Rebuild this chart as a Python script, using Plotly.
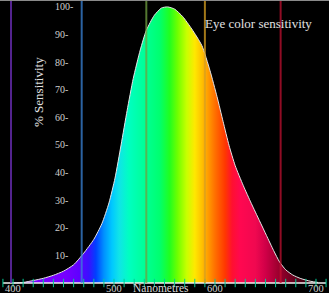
import plotly.graph_objects as go

# Sensitivity curve (nm, % sensitivity)
wavelength = [400, 410, 420, 430, 440, 450, 460, 470, 480, 488, 495, 501, 507, 513, 519,
              526, 532, 540, 547, 553, 560, 568, 577, 587, 595, 602, 608, 614, 620, 628,
              636, 644, 651, 658, 664, 670, 677, 685, 695, 702]
sensitivity = [0, 0.2, 0.9, 1.7, 2.8, 4.3, 6.6, 10.8, 15.8, 21.5, 29, 38, 50, 62.5, 74,
               84.4, 91.5, 97, 99.6, 100, 99.2, 96.5, 92, 86, 77, 67.5, 58.5, 49.7, 42.5, 35.3,
               28.8, 22.6, 17.2, 11.8, 7.6, 4.8, 2.9, 1.6, 0.6, 0.2]

# Spectral colour stops (nm, colour)
spectrum_nm = [400, 450, 465, 475, 482, 490, 498, 505, 515, 530, 545, 555, 563, 572, 580,
               590, 600, 610, 617, 625, 640, 650, 662, 675, 690, 700]
spectrum_col = ["#8000ff", "#7800ff", "#6000ff", "#3a10ff", "#0040ff", "#0090ff", "#00c8ff",
                "#10e4e8", "#00ffc0", "#00ff98", "#00ff70", "#20ff20", "#70ff00", "#c8ff00",
                "#ffe800", "#ffb000", "#ff7000", "#ff3800", "#ff1030", "#ff0850", "#f00850",
                "#d00048", "#a00030", "#700020", "#400010", "#300008"]

# Vertical marker lines
marker_nm = [398, 468, 532, 590, 665]
marker_col = ["#7030c0", "#3a84d8", "#70a040", "#d8a020", "#c01030"]

# Axis tick labels
xtick_vals = [400, 500, 600, 700]
xtick_text = ["400", "500", "600", "700"]
ytick_vals = [10, 20, 30, 40, 50, 60, 70, 80, 90, 100]
minor_ticks = list(range(390, 711, 10))

X_RANGE = [387.1, 712.9]
Y_RANGE = [-3.62, 102.5]
FONT = "Liberation Serif"

span = spectrum_nm[-1] - spectrum_nm[0]
colorscale = [[(n - spectrum_nm[0]) / span, c] for n, c in zip(spectrum_nm, spectrum_col)]

fig = go.Figure()
fig.add_trace(go.Scatter(
    x=wavelength, y=sensitivity, mode="lines",
    line=dict(color="#e6e6e6", width=1, shape="spline", smoothing=0.6),
    fill="tozeroy",
    fillgradient=dict(type="horizontal", colorscale=colorscale,
                      start=spectrum_nm[0], stop=spectrum_nm[-1]),
    hoverinfo="skip", showlegend=False))

# axis line
fig.add_trace(go.Scatter(x=[minor_ticks[0], minor_ticks[-1]], y=[0, 0], mode="lines",
                         line=dict(color="#f0f0f0", width=1.5), showlegend=False, hoverinfo="skip"))
# tick marks
fig.add_trace(go.Scatter(x=minor_ticks, y=[0] * len(minor_ticks), mode="markers",
                         marker=dict(symbol="line-ns-open", size=6, line=dict(color="#f0f0f0", width=1)),
                         showlegend=False, hoverinfo="skip"))

for n, c in zip(marker_nm, marker_col):
    fig.add_shape(type="line", x0=n, x1=n, y0=0, y1=Y_RANGE[1], xref="x", yref="y",
                  line=dict(color=c, width=2), opacity=0.75, layer="above")

# top frame line
fig.add_shape(type="line", x0=0, x1=1, y0=1, y1=1, xref="paper", yref="paper",
              line=dict(color="#8a8a8a", width=2))

ann = []
for v in ytick_vals:
    ann.append(dict(x=53 / 329, xref="paper", y=v, yref="y", text=f"{v}-", showarrow=False,
                    xanchor="left", yanchor="middle", font=dict(family=FONT, size=10, color="#cfcfcf")))
for v, t in zip(xtick_vals, xtick_text):
    ann.append(dict(x=v, xref="x", y=1 - 288 / 293, yref="paper", text=t, showarrow=False,
                    xanchor="center", yanchor="middle", font=dict(family=FONT, size=10.5, color="#cfcfcf")))
ann.append(dict(x=161 / 329, xref="paper", y=1 - 288 / 293, yref="paper", text="Nanometres",
                showarrow=False, xanchor="center", yanchor="middle",
                font=dict(family=FONT, size=11.5, color="#d8d8d8")))
ann.append(dict(x=38 / 329, xref="paper", y=1 - 92 / 293, yref="paper", text="% Sensitivity",
                showarrow=False, textangle=-90, xanchor="center", yanchor="middle",
                font=dict(family=FONT, size=13, color="#e0e0e0")))
ann.append(dict(x=203 / 329, xref="paper", y=1 - 23 / 293, yref="paper", text="Eye color sensitivity",
                showarrow=False, xanchor="left", yanchor="middle",
                font=dict(family=FONT, size=13, color="#e0e0e0")))

fig.update_layout(
    width=329, height=293, margin=dict(l=0, r=0, t=0, b=0),
    paper_bgcolor="black", plot_bgcolor="black",
    xaxis=dict(range=X_RANGE, visible=False, fixedrange=True),
    yaxis=dict(range=Y_RANGE, visible=False, fixedrange=True),
    annotations=ann, showlegend=False,
)
fig.write_html("out.html", config={"displayModeBar": False})
